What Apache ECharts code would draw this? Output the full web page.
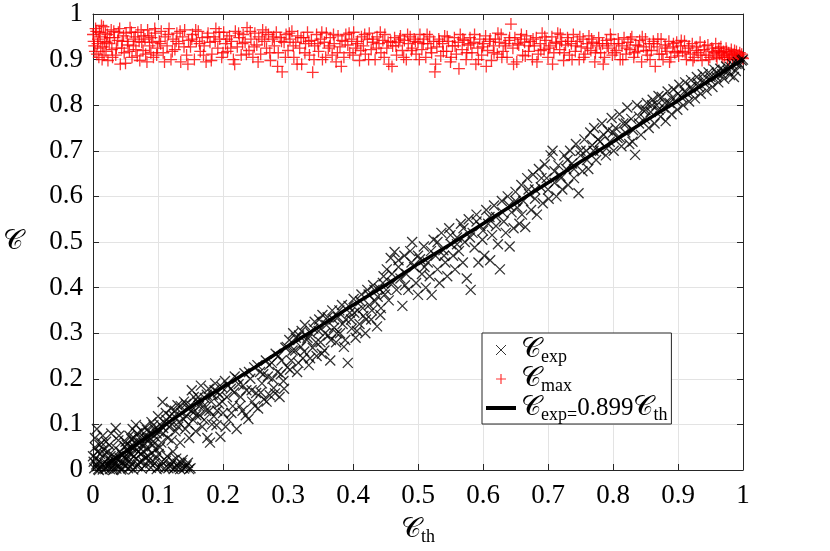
<!DOCTYPE html>
<html><head><meta charset="utf-8">
<script src="https://cdn.jsdelivr.net/npm/echarts@6/dist/echarts.min.js"></script>
<style>html,body{margin:0;padding:0;background:#fff}#c{width:830px;height:551px}</style>
</head><body><div id="c"></div>
<script>
const xTicks = [0,0.1,0.2,0.3,0.4,0.5,0.6,0.7,0.8,0.9,1];
const yTicks = [0,0.1,0.2,0.3,0.4,0.5,0.6,0.7,0.8,0.9,1];

const expPoints = [
[0.002,0.004],[0.005,0.012],[0.008,0.002],[0.010,0.020],[0.012,0.008],[0.015,0.001],[0.017,0.015],[0.020,0.005],[0.022,0.025],[0.024,0.010],[0.026,0.002],[0.028,0.018],[0.030,0.006],[0.032,0.030],[0.034,0.012],[0.036,0.003],[0.038,0.022],[0.040,0.008],[0.042,0.040],[0.044,0.015],[0.046,0.002],[0.048,0.028],[0.050,0.010],[0.052,0.045],[0.054,0.004],[0.056,0.020],[0.058,0.035],[0.060,0.012],[0.062,0.001],[0.064,0.050],[0.066,0.025],[0.068,0.008],[0.070,0.060],[0.072,0.018],[0.075,0.003],[0.078,0.040],[0.080,0.010],[0.083,0.070],[0.086,0.022],[0.089,0.005],[0.092,0.055],[0.095,0.015],[0.098,0.002],[0.101,0.035],[0.104,0.008],[0.108,0.080],[0.112,0.020],[0.116,0.004],[0.120,0.012],[0.124,0.002],[0.128,0.025],[0.132,0.006],[0.136,0.015],[0.140,0.003],[0.144,0.010],[0.148,0.002],[0.000,0.030],[0.003,0.050],[0.001,0.018],[0.007,0.040],[0.013,0.060],[0.018,0.035],[0.025,0.055],[0.009,0.000],[0.031,0.000],[0.043,0.001],
[0.004,0.026],[0.006,0.008],[0.011,0.035],[0.014,0.012],[0.016,0.045],[0.019,0.002],[0.021,0.014],[0.023,0.040],[0.027,0.030],[0.029,0.010],[0.033,0.020],[0.035,0.048],[0.037,0.010],[0.039,0.065],[0.041,0.026],[0.045,0.033],[0.047,0.012],[0.049,0.052],[0.051,0.022],[0.055,0.038],[0.057,0.006],[0.059,0.068],[0.063,0.030],[0.067,0.044],[0.069,0.012],[0.073,0.035],[0.076,0.020],[0.079,0.058],[0.081,0.028],[0.084,0.046],[0.088,0.015],[0.091,0.038],[0.094,0.075],[0.097,0.025],[0.100,0.006],[0.103,0.050],[0.106,0.018],[0.110,0.004],[0.114,0.030],[0.118,0.008],[0.122,0.020],[0.126,0.006],[0.130,0.014],[0.134,0.002],[0.138,0.022],[0.142,0.006],[0.146,0.016],[0.150,0.004],[0.003,0.070],[0.006,0.090],[0.010,0.055],[0.015,0.075],[0.020,0.062],[0.028,0.080],[0.035,0.092],[0.040,0.075],
[0.050,0.062],[0.053,0.030],[0.056,0.075],[0.060,0.048],[0.061,0.090],[0.065,0.058],[0.066,0.099],[0.070,0.040],[0.071,0.071],[0.075,0.085],[0.077,0.052],[0.080,0.095],[0.082,0.066],[0.085,0.030],[0.087,0.081],[0.090,0.105],[0.092,0.062],[0.095,0.090],[0.097,0.045],[0.100,0.118],[0.102,0.084],[0.105,0.060],[0.107,0.149],[0.110,0.104],[0.112,0.125],[0.115,0.070],[0.117,0.095],[0.120,0.135],[0.122,0.100],[0.123,0.040],[0.125,0.118],[0.127,0.085],[0.130,0.142],[0.132,0.105],[0.134,0.060],[0.136,0.125],[0.140,0.150],[0.142,0.090],[0.144,0.118],[0.146,0.135],[0.148,0.070],
[0.052,0.055],[0.058,0.052],[0.063,0.070],[0.068,0.080],[0.073,0.060],[0.078,0.072],[0.083,0.088],[0.088,0.070],[0.093,0.098],[0.098,0.080],[0.103,0.100],[0.108,0.092],[0.113,0.110],[0.118,0.118],[0.121,0.065],[0.126,0.130],[0.131,0.095],[0.135,0.140],[0.139,0.112],[0.143,0.145],[0.147,0.100],[0.151,0.130],[0.155,0.160],[0.159,0.120],[0.163,0.140],[0.167,0.150],[0.171,0.110],[0.175,0.165],[0.179,0.130],[0.183,0.100],[0.187,0.175],[0.191,0.130],[0.195,0.165],[0.199,0.150],[0.204,0.095],[0.208,0.185],[0.213,0.125],[0.217,0.170],[0.222,0.200],[0.226,0.140],[0.231,0.185],[0.235,0.120],[0.240,0.215],[0.244,0.175],[0.249,0.140],[0.253,0.230],[0.258,0.170],[0.262,0.210],[0.267,0.150],[0.271,0.230],[0.276,0.200],[0.280,0.168],[0.285,0.250],[0.289,0.210],[0.294,0.178],[0.298,0.270],
[0.150,0.142],[0.152,0.175],[0.154,0.110],[0.156,0.128],[0.158,0.085],[0.160,0.150],[0.162,0.160],[0.164,0.120],[0.166,0.185],[0.168,0.095],[0.170,0.140],[0.172,0.158],[0.174,0.130],[0.176,0.070],[0.178,0.178],[0.180,0.060],[0.182,0.150],[0.184,0.165],[0.186,0.118],[0.188,0.190],[0.190,0.098],[0.192,0.170],[0.194,0.145],[0.196,0.073],[0.198,0.182],[0.200,0.125],[0.203,0.195],[0.206,0.160],[0.209,0.110],[0.212,0.178],[0.215,0.140],[0.218,0.205],[0.221,0.090],[0.224,0.188],[0.227,0.160],[0.230,0.130],[0.233,0.212],[0.236,0.175],[0.239,0.112],[0.242,0.200],[0.245,0.150],[0.248,0.225],[0.251,0.169],[0.254,0.135],[0.257,0.215],[0.260,0.190],[0.263,0.155],[0.266,0.240],[0.269,0.205],[0.272,0.164],[0.275,0.235],[0.278,0.180],[0.281,0.255],[0.284,0.215],[0.287,0.160],[0.290,0.240],[0.293,0.195],[0.296,0.268],[0.299,0.225],
[0.302,0.285],[0.305,0.240],[0.308,0.300],[0.311,0.262],[0.314,0.215],[0.317,0.295],[0.320,0.270],[0.323,0.245],[0.326,0.318],[0.329,0.285],[0.332,0.230],[0.335,0.300],[0.338,0.268],[0.341,0.325],[0.344,0.250],[0.347,0.305],[0.350,0.280],[0.353,0.340],[0.356,0.262],[0.359,0.318],[0.362,0.295],[0.365,0.240],[0.368,0.350],[0.371,0.312],[0.374,0.280],[0.377,0.335],[0.380,0.300],[0.383,0.362],[0.386,0.270],[0.389,0.330],[0.392,0.235],[0.395,0.345],[0.398,0.310],[0.401,0.375],[0.404,0.290],[0.407,0.350],[0.410,0.320],[0.413,0.385],[0.416,0.338],[0.419,0.300],[0.422,0.395],[0.425,0.362],[0.428,0.330],[0.431,0.405],[0.434,0.370],[0.437,0.315],[0.440,0.398],[0.443,0.355],[0.446,0.410],[0.449,0.385],
[0.303,0.220],[0.307,0.262],[0.312,0.290],[0.316,0.235],[0.321,0.305],[0.325,0.260],[0.330,0.290],[0.334,0.245],[0.339,0.310],[0.343,0.280],[0.348,0.330],[0.352,0.255],[0.357,0.300],[0.361,0.335],[0.366,0.285],[0.370,0.330],[0.375,0.300],[0.379,0.350],[0.384,0.320],[0.388,0.285],[0.393,0.360],[0.397,0.330],[0.402,0.345],[0.406,0.305],[0.411,0.370],[0.415,0.355],[0.420,0.330],[0.424,0.385],[0.429,0.350],[0.433,0.395],[0.438,0.380],[0.442,0.340],[0.447,0.425],[0.451,0.395],
[0.452,0.440],[0.455,0.372],[0.458,0.465],[0.461,0.410],[0.464,0.478],[0.467,0.395],[0.470,0.445],[0.473,0.420],[0.476,0.360],[0.479,0.470],[0.482,0.430],[0.485,0.395],[0.488,0.480],[0.491,0.500],[0.494,0.445],[0.497,0.410],[0.500,0.384],[0.503,0.462],[0.506,0.430],[0.509,0.490],[0.512,0.400],[0.515,0.455],[0.518,0.425],[0.521,0.384],[0.524,0.505],[0.527,0.470],[0.530,0.440],[0.533,0.410],[0.536,0.520],[0.539,0.482],[0.542,0.455],[0.545,0.425],[0.548,0.530],[0.551,0.495],[0.554,0.470],[0.557,0.440],[0.560,0.510],[0.563,0.480],[0.566,0.540],[0.569,0.455],[0.572,0.500],[0.575,0.420],[0.578,0.550],[0.581,0.395],[0.584,0.520],[0.587,0.488],[0.590,0.560],[0.593,0.455],[0.596,0.535],[0.599,0.505],[0.602,0.470],[0.605,0.570],[0.608,0.540],[0.611,0.460],[0.614,0.515],[0.617,0.580],[0.620,0.555],[0.623,0.495],[0.626,0.440],[0.629,0.590],[0.632,0.545],[0.635,0.520],[0.638,0.600],[0.641,0.490],[0.644,0.565],[0.647,0.530],
[0.46,0.430],[0.47,0.460],[0.48,0.405],[0.49,0.455],[0.50,0.470],[0.51,0.445],[0.52,0.480],[0.53,0.500],[0.54,0.470],[0.55,0.515],[0.56,0.495],[0.57,0.530],[0.58,0.510],[0.59,0.545],[0.60,0.525],[0.61,0.555],[0.62,0.535],[0.63,0.565],[0.64,0.580],[0.65,0.590],[0.66,0.560],[0.67,0.615],[0.68,0.595],[0.69,0.640],[0.70,0.615],[0.71,0.655],[0.72,0.640],[0.73,0.680],[0.74,0.660],[0.75,0.700],[0.76,0.680],[0.77,0.700],[0.78,0.720],[0.79,0.705],[0.80,0.740],[0.81,0.730],[0.82,0.760],[0.83,0.720],[0.84,0.775],[0.85,0.790],[0.86,0.800],[0.87,0.790],[0.88,0.805],[0.89,0.815],[0.90,0.825],[0.91,0.830],[0.92,0.840],[0.93,0.848],[0.94,0.855],[0.95,0.862],[0.96,0.870],[0.97,0.876],[0.98,0.884],[0.99,0.890],
[0.650,0.610],[0.653,0.575],[0.656,0.540],[0.659,0.625],[0.662,0.590],[0.665,0.533],[0.668,0.640],[0.671,0.605],[0.674,0.570],[0.677,0.648],[0.680,0.615],[0.683,0.560],[0.686,0.660],[0.689,0.620],[0.692,0.585],[0.695,0.670],[0.698,0.640],[0.701,0.595],[0.704,0.690],[0.707,0.700],[0.710,0.630],[0.713,0.600],[0.716,0.668],[0.719,0.645],[0.722,0.615],[0.725,0.690],[0.728,0.660],[0.731,0.625],[0.734,0.700],[0.737,0.672],[0.740,0.640],[0.743,0.715],[0.747,0.607],[0.750,0.690],[0.753,0.655],[0.756,0.725],[0.759,0.700],[0.762,0.660],[0.765,0.740],[0.768,0.712],[0.771,0.750],[0.774,0.680],[0.777,0.725],[0.780,0.700],[0.783,0.760],[0.786,0.735],[0.789,0.690],[0.792,0.745],[0.795,0.720],[0.798,0.772],[0.801,0.700],[0.804,0.750],[0.807,0.728],[0.810,0.780],[0.813,0.710],[0.816,0.760],[0.819,0.740],[0.822,0.795],[0.825,0.715],[0.828,0.770],[0.831,0.745],[0.834,0.691],[0.837,0.800],[0.840,0.760],[0.843,0.735],[0.846,0.790],[0.849,0.770],
[0.852,0.805],[0.855,0.750],[0.858,0.785],[0.861,0.812],[0.864,0.760],[0.867,0.800],[0.870,0.820],[0.873,0.775],[0.875,0.818],[0.878,0.795],[0.881,0.765],[0.884,0.830],[0.887,0.805],[0.890,0.780],[0.893,0.835],[0.896,0.810],[0.899,0.790],[0.902,0.845],[0.905,0.818],[0.908,0.800],[0.911,0.850],[0.914,0.825],[0.917,0.808],[0.920,0.855],[0.923,0.832],[0.926,0.815],[0.929,0.862],[0.932,0.840],[0.935,0.825],[0.938,0.868],[0.941,0.848],[0.944,0.832],[0.947,0.872],[0.950,0.855],[0.953,0.840],[0.956,0.878],[0.959,0.862],[0.962,0.850],[0.965,0.880],[0.968,0.868],[0.971,0.858],[0.974,0.885],[0.977,0.875],[0.980,0.866],[0.983,0.890],[0.986,0.862],[0.989,0.875],[0.992,0.895],[0.995,0.888],[0.998,0.898],[1.000,0.900]
];

const maxPoints = [
[0.000,0.955],[0.002,0.930],[0.004,0.968],[0.006,0.912],[0.008,0.945],[0.010,0.960],[0.012,0.925],[0.014,0.900],[0.016,0.972],[0.018,0.940],[0.020,0.918],[0.022,0.955],[0.025,0.935],[0.028,0.965],[0.030,0.905],[0.033,0.948],[0.036,0.925],[0.039,0.960],[0.042,0.890],[0.045,0.940],[0.048,0.915],[0.051,0.958],[0.054,0.932],[0.057,0.970],[0.060,0.905],[0.063,0.945],[0.066,0.922],[0.069,0.960],[0.072,0.898],[0.075,0.938],[0.078,0.952],[0.081,0.912],[0.084,0.965],[0.087,0.930],[0.090,0.948],[0.093,0.905],[0.096,0.958],[0.099,0.925],
[0.001,0.940],[0.003,0.918],[0.005,0.962],[0.007,0.935],[0.009,0.905],[0.011,0.950],[0.013,0.975],[0.015,0.928],[0.017,0.910],[0.019,0.958],[0.021,0.938],[0.023,0.898],[0.026,0.948],[0.029,0.922],[0.032,0.962],[0.035,0.910],[0.038,0.942],[0.041,0.968],[0.044,0.925],[0.047,0.952],[0.050,0.892],[0.053,0.940],[0.056,0.918],[0.059,0.960],[0.062,0.930],[0.065,0.950],[0.068,0.908],[0.071,0.940],[0.074,0.965],[0.077,0.920],[0.080,0.945],[0.083,0.895],[0.086,0.952],[0.089,0.915],[0.092,0.938],[0.095,0.968],[0.098,0.910],
[0.102,0.940],[0.105,0.962],[0.108,0.915],[0.111,0.950],[0.114,0.930],[0.117,0.968],[0.120,0.900],[0.123,0.945],[0.126,0.922],[0.129,0.958],[0.132,0.935],[0.135,0.895],[0.138,0.950],[0.141,0.965],[0.144,0.910],[0.147,0.942],[0.150,0.928],[0.153,0.955],[0.156,0.900],[0.159,0.940],[0.162,0.962],[0.165,0.918],[0.168,0.948],[0.171,0.930],[0.174,0.895],[0.177,0.958],[0.180,0.938],[0.183,0.912],[0.186,0.950],[0.189,0.968],[0.192,0.925],[0.195,0.945],[0.198,0.905],[0.201,0.960],[0.204,0.935],[0.207,0.918],[0.210,0.952],[0.213,0.940],[0.216,0.900],[0.219,0.962],[0.222,0.928],[0.225,0.948],[0.228,0.910],[0.231,0.955],[0.234,0.938],[0.237,0.970],[0.240,0.920],[0.243,0.945],[0.246,0.905],[0.249,0.958],[0.252,0.932],[0.255,0.950],[0.258,0.912],[0.261,0.965],[0.264,0.940],[0.267,0.925],[0.270,0.955],[0.273,0.898],[0.276,0.945],[0.279,0.930],[0.282,0.960],[0.285,0.915],[0.288,0.948],[0.291,0.873],[0.294,0.938],[0.297,0.955],
[0.104,0.935],[0.110,0.895],[0.116,0.955],[0.122,0.918],[0.128,0.940],[0.134,0.962],[0.140,0.928],[0.146,0.890],[0.152,0.945],[0.158,0.965],[0.164,0.935],[0.170,0.910],[0.176,0.950],[0.182,0.898],[0.188,0.940],[0.194,0.960],[0.200,0.915],[0.206,0.945],[0.212,0.925],[0.218,0.890],[0.224,0.958],[0.230,0.935],[0.236,0.912],[0.242,0.962],[0.248,0.928],[0.254,0.895],[0.260,0.945],[0.266,0.960],[0.272,0.915],[0.278,0.950],[0.284,0.885],[0.290,0.940],[0.296,0.905],
[0.300,0.920],[0.303,0.945],[0.306,0.962],[0.309,0.905],[0.312,0.938],[0.315,0.952],[0.318,0.925],[0.321,0.890],[0.324,0.948],[0.327,0.935],[0.330,0.960],[0.333,0.910],[0.336,0.942],[0.338,0.872],[0.341,0.930],[0.344,0.955],[0.347,0.918],[0.350,0.945],[0.353,0.900],[0.356,0.938],[0.359,0.958],[0.362,0.925],[0.365,0.948],[0.368,0.910],[0.371,0.935],[0.374,0.895],[0.377,0.952],[0.380,0.928],[0.383,0.942],[0.386,0.905],[0.389,0.955],[0.392,0.932],[0.395,0.915],[0.398,0.945],[0.401,0.960],[0.404,0.925],[0.407,0.940],[0.410,0.898],[0.413,0.950],[0.416,0.930],[0.419,0.912],[0.422,0.945],[0.425,0.958],[0.428,0.922],[0.431,0.938],[0.434,0.900],[0.437,0.950],[0.440,0.935],[0.443,0.915],[0.446,0.942],[0.449,0.955],[0.452,0.925],[0.455,0.890],[0.458,0.940],[0.461,0.930],[0.464,0.948],[0.467,0.910],[0.470,0.938],[0.473,0.952],[0.476,0.920],[0.479,0.942],[0.482,0.900],[0.485,0.935],[0.488,0.950],[0.491,0.925],[0.494,0.945],[0.497,0.912],
[0.302,0.958],[0.308,0.930],[0.314,0.890],[0.320,0.948],[0.326,0.915],[0.332,0.940],[0.340,0.900],[0.346,0.935],[0.352,0.960],[0.358,0.905],[0.364,0.930],[0.370,0.955],[0.376,0.915],[0.382,0.885],[0.388,0.940],[0.394,0.958],[0.400,0.910],[0.406,0.935],[0.412,0.920],[0.418,0.955],[0.424,0.900],[0.430,0.945],[0.436,0.925],[0.442,0.960],[0.448,0.905],[0.454,0.938],[0.460,0.885],[0.466,0.930],[0.472,0.945],[0.478,0.905],[0.484,0.955],[0.490,0.920],[0.496,0.940],
[0.500,0.938],[0.503,0.955],[0.506,0.922],[0.509,0.945],[0.512,0.905],[0.515,0.935],[0.518,0.950],[0.521,0.915],[0.524,0.940],[0.526,0.873],[0.529,0.928],[0.532,0.945],[0.535,0.908],[0.538,0.935],[0.541,0.952],[0.544,0.918],[0.547,0.940],[0.550,0.895],[0.553,0.930],[0.556,0.948],[0.559,0.912],[0.562,0.938],[0.565,0.955],[0.568,0.922],[0.571,0.942],[0.574,0.900],[0.577,0.932],[0.580,0.948],[0.583,0.915],[0.586,0.938],[0.589,0.890],[0.592,0.925],[0.595,0.945],[0.598,0.910],[0.601,0.935],[0.604,0.952],[0.607,0.920],[0.610,0.940],[0.613,0.898],[0.616,0.930],[0.619,0.945],[0.622,0.912],[0.625,0.938],[0.628,0.955],[0.631,0.918],[0.634,0.935],[0.637,0.905],[0.640,0.942],[0.643,0.978],[0.646,0.925],[0.649,0.948],[0.652,0.895],[0.655,0.932],[0.658,0.945],[0.661,0.910],[0.664,0.938],[0.667,0.952],[0.670,0.918],[0.673,0.940],[0.676,0.900],[0.679,0.930],[0.682,0.948],[0.685,0.912],[0.688,0.935],[0.691,0.958],[0.694,0.922],[0.697,0.942],
[0.502,0.900],[0.508,0.935],[0.514,0.955],[0.520,0.925],[0.527,0.890],[0.533,0.940],[0.539,0.918],[0.545,0.950],[0.551,0.905],[0.557,0.930],[0.563,0.880],[0.569,0.945],[0.575,0.915],[0.581,0.935],[0.587,0.955],[0.593,0.900],[0.599,0.928],[0.605,0.885],[0.611,0.945],[0.617,0.915],[0.623,0.958],[0.629,0.905],[0.635,0.930],[0.641,0.948],[0.647,0.890],[0.653,0.935],[0.659,0.955],[0.665,0.908],[0.671,0.930],[0.677,0.945],[0.683,0.895],[0.689,0.920],[0.695,0.950],
[0.700,0.905],[0.703,0.930],[0.706,0.950],[0.709,0.915],[0.712,0.938],[0.715,0.958],[0.718,0.922],[0.721,0.940],[0.724,0.898],[0.727,0.932],[0.730,0.948],[0.733,0.910],[0.736,0.935],[0.739,0.955],[0.742,0.918],[0.745,0.940],[0.748,0.900],[0.751,0.928],[0.754,0.945],[0.757,0.912],[0.760,0.935],[0.763,0.952],[0.766,0.920],[0.769,0.938],[0.772,0.895],[0.775,0.930],[0.778,0.948],[0.781,0.915],[0.784,0.935],[0.787,0.905],[0.790,0.942],[0.793,0.925],[0.796,0.955],[0.799,0.910],[0.802,0.935],[0.805,0.920],[0.808,0.945],[0.811,0.900],[0.814,0.930],[0.817,0.948],[0.820,0.912],[0.823,0.938],[0.826,0.922],[0.829,0.950],[0.832,0.905],[0.835,0.932],[0.838,0.918],[0.841,0.942],[0.844,0.895],[0.847,0.928],[0.850,0.945],[0.853,0.910],[0.856,0.935],[0.859,0.920],[0.862,0.940],[0.865,0.885],[0.868,0.928],[0.871,0.912],[0.874,0.945],[0.877,0.900],[0.880,0.932],[0.883,0.918],[0.886,0.940],[0.889,0.905],[0.892,0.928],[0.895,0.915],[0.898,0.938],
[0.701,0.925],[0.707,0.890],[0.713,0.935],[0.719,0.955],[0.725,0.915],[0.731,0.940],[0.737,0.900],[0.743,0.930],[0.749,0.950],[0.755,0.905],[0.761,0.925],[0.767,0.945],[0.773,0.915],[0.779,0.935],[0.785,0.890],[0.791,0.930],[0.797,0.945],[0.803,0.915],[0.809,0.935],[0.815,0.900],[0.821,0.925],[0.827,0.945],[0.833,0.915],[0.839,0.930],[0.845,0.950],[0.851,0.920],[0.857,0.900],[0.863,0.935],[0.869,0.945],[0.875,0.912],[0.881,0.925],[0.887,0.895],[0.893,0.935],[0.899,0.918],
[0.901,0.908],[0.904,0.930],[0.907,0.918],[0.910,0.940],[0.913,0.900],[0.916,0.925],[0.919,0.912],[0.922,0.935],[0.925,0.905],[0.928,0.928],[0.931,0.915],[0.934,0.938],[0.937,0.898],[0.940,0.922],[0.943,0.910],[0.946,0.932],[0.949,0.905],[0.952,0.925],[0.955,0.915],[0.958,0.935],[0.960,0.902],[0.962,0.920],[0.964,0.912],[0.966,0.928],[0.968,0.905],[0.970,0.918],[0.972,0.910],[0.974,0.925],[0.976,0.900],[0.978,0.915],[0.980,0.908],[0.982,0.922],[0.984,0.902],[0.986,0.912],[0.988,0.905],[0.990,0.918],[0.992,0.900],[0.994,0.910],[0.996,0.905],[0.998,0.912],[1.000,0.902],
[0.905,0.942],[0.911,0.915],[0.917,0.930],[0.923,0.898],[0.929,0.920],[0.935,0.910],[0.941,0.930],[0.947,0.900],[0.953,0.918],[0.959,0.908],[0.963,0.925],[0.967,0.915],[0.971,0.905],[0.975,0.918],[0.979,0.900],[0.983,0.912],[0.987,0.920],[0.991,0.908],[0.995,0.915],[0.999,0.905]
];

const fitLine = [
[0.02,0.012],[0.05,0.040],[0.10,0.088],[0.15,0.138],[0.20,0.182],[0.25,0.226],[0.30,0.272],[0.35,0.316],[0.40,0.362],[0.45,0.405],[0.50,0.452],[0.55,0.495],[0.60,0.540],[0.65,0.585],[0.70,0.630],[0.75,0.676],[0.80,0.720],[0.85,0.766],[0.90,0.810],[0.95,0.856],[1.00,0.900]
];

const SERIF = 'Liberation Serif';
const C = '\u{1D49E}';
const chart = echarts.init(document.getElementById('c'), null, {renderer:'canvas'});
const axisCommon = {
  type:'value', min:0, max:1, interval:0.1,
  axisLine:{show:true, onZero:false, lineStyle:{color:'#262626', width:1}},
  axisTick:{show:true, inside:true, length:6, lineStyle:{color:'#262626', width:1}},
};
const crossPath = 'path://M0,0L10,10M10,0L0,10';
const plusPath = 'path://M5,0L5,10M0,5L10,5';
const linePath = 'path://M0,0L30,0L30,4L0,4Z';
const rich = {
  c:{fontFamily:SERIF, fontSize:28, color:'#000', lineHeight:32},
  s:{fontFamily:SERIF, fontSize:18, color:'#000', verticalAlign:'bottom', lineHeight:32, padding:[13,0,0,0]},
  r:{fontFamily:SERIF, fontSize:25, color:'#000', lineHeight:32}
};
chart.setOption({
  animation:false,
  grid:{left:88, right:87, top:14, bottom:81, containLabel:false},
  xAxis:[
    Object.assign({}, axisCommon, {position:'bottom',
      axisLabel:{show:true, margin:12, color:'#000', fontFamily:SERIF, fontSize:27},
      splitLine:{show:true, lineStyle:{color:'#e3e3e3', width:1}},
      name:'{c|'+C+'}{s|th}', nameLocation:'middle', nameGap:44,
      nameTextStyle:{rich:rich}
    }),
    Object.assign({}, axisCommon, {position:'top', axisLabel:{show:false}, splitLine:{show:false}})
  ],
  yAxis:[
    Object.assign({}, axisCommon, {position:'left',
      axisLabel:{show:true, margin:10, color:'#000', fontFamily:SERIF, fontSize:27},
      splitLine:{show:true, lineStyle:{color:'#e3e3e3', width:1}},
      name:'{c|'+C+'}', nameLocation:'middle', nameGap:70, nameRotate:0,
      nameTextStyle:{rich:rich}
    }),
    Object.assign({}, axisCommon, {position:'right', axisLabel:{show:false}, splitLine:{show:false}})
  ],
  legend:{
    orient:'vertical', left:482, top:333, width:196,
    backgroundColor:'#fff', borderColor:'#262626', borderWidth:1, borderRadius:0,
    padding:[2,4,0,4], itemGap:-2, itemWidth:30, itemHeight:10,
    data:[
      {name:'exp', icon:crossPath, itemWidth:9, itemHeight:9, itemStyle:{color:'transparent', borderColor:'#000', borderWidth:1}},
      {name:'max', icon:plusPath, itemWidth:11, itemHeight:11, itemStyle:{color:'transparent', borderColor:'#ff0000', borderWidth:1.2}},
      {name:'fit', icon:linePath, itemWidth:30, itemHeight:4, itemStyle:{color:'#000', borderWidth:0}}
    ],
    formatter: function(n){
      if(n==='exp') return '{c|'+C+'}{s|exp}';
      if(n==='max') return '{c|'+C+'}{s|max}';
      return '{c|'+C+'}{s|exp=}{r|0.899}{c|'+C+'}{s|th}';
    },
    textStyle:{rich:rich}
  },
  series:[
    {name:'max', type:'scatter', data:maxPoints, symbol:plusPath, symbolSize:12,
      itemStyle:{color:'transparent', borderColor:'#ff0000', borderWidth:1.3, opacity:0.8}},
    {name:'exp', type:'scatter', data:expPoints, symbol:crossPath, symbolSize:10,
      itemStyle:{color:'transparent', borderColor:'#000', borderWidth:1.3}},
    {name:'fit', type:'line', data:fitLine, symbol:'none', smooth:false,
      lineStyle:{color:'#000', width:3.5}, itemStyle:{color:'#000'}, z:5}
  ]
});
</script></body></html>
